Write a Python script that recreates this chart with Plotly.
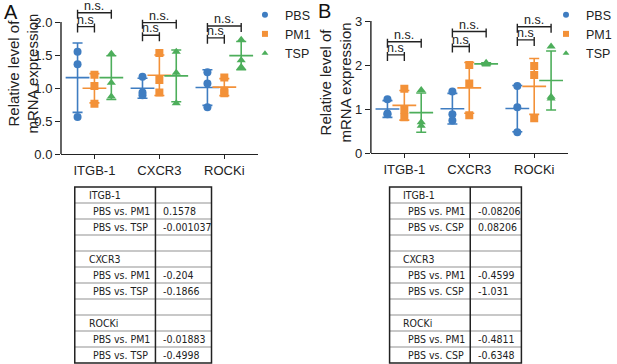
import glob
import subprocess
import numpy as np
import plotly.graph_objects as go

W, H = 617, 364

categories = ["ITGB-1", "CXCR3", "ROCKi"]
groups = ["PBS", "PM1", "TSP"]
colors = {"PBS": "#3F7DC1", "PM1": "#F39138", "TSP": "#4DAE5B"}
symbols = {"PBS": "circle", "PM1": "square", "TSP": "triangle-up"}

# Panel A values (3 replicates per group per category)
a_pbs = [[1.55, 1.36, 0.56], [1.17, 0.89, 0.93], [1.24, 1.07, 0.71]]
a_pm1 = [[1.20, 1.03, 0.76], [1.53, 1.12, 0.93], [1.16, 0.96, 0.92]]
a_tsp = [[1.52, 1.08, 0.87], [1.55, 1.23, 0.77], [1.73, 1.42, 1.32]]

# Panel B values
b_pbs = [[1.22, 0.90, 0.88], [1.40, 0.88, 0.74], [1.52, 1.04, 0.47]]
b_pm1 = [[1.46, 0.98, 0.81], [2.00, 1.58, 0.86], [1.98, 1.77, 0.79]]
b_tsp = [[1.43, 0.70, 0.62], [2.05, 2.02, 2.01], [2.42, 1.24, 1.28]]

# significance bracket heights (lower: PBS vs PM1, upper: PBS vs TSP)
a_br_low = [1.93, 1.80, 1.76]
a_br_up = [2.14, 1.99, 1.94]
b_br_low = [2.23, 2.42, 2.57]
b_br_up = [2.53, 2.76, 2.87]

a_ticks = [0, 0.5, 1.0, 1.5, 2.0]
b_ticks = [0, 1, 2, 3]

# tables
table_rows = ["ITGB-1", "PBS vs. PM1", "PBS vs. TSP", "", "CXCR3", "PBS vs. PM1", "PBS vs. TSP",
              "", "ROCKi", "PBS vs. PM1", "PBS vs. TSP"]
table_rows_b = ["ITGB-1", "PBS vs. PM1", "PBS vs. CSP", "", "CXCR3", "PBS vs. PM1", "PBS vs. CSP",
                "", "ROCKi", "PBS vs. PM1", "PBS vs. CSP"]
a_table_vals = ["", "0.1578", "-0.001037", "", "", "-0.204", "-0.1866", "", "", "-0.01883", "-0.4998"]
b_table_vals = ["", "-0.08206", "0.08206", "", "", "-0.4599", "-1.031", "", "", "-0.4811", "-0.6348"]


def px(x):
    return x / W


def py(y):
    return 1 - y / H


FONT = "Liberation Sans, Arial, sans-serif"

# pick a condensed font for the tables if one is installed
families = ""
try:
    families = subprocess.run(["fc-list", ":", "family"], capture_output=True, text=True, timeout=10).stdout
except Exception:
    pass
files = " ".join(glob.glob("/usr/share/fonts/**/*", recursive=True))
if "Liberation Sans Narrow" in families or "LiberationSansNarrow" in files:
    NARROW, NSIZE = "Liberation Sans Narrow", 11.5
elif "DejaVu Sans Condensed" in families or "DejaVuSansCondensed" in files:
    NARROW, NSIZE = "DejaVu Sans Condensed", 10.5
else:
    NARROW, NSIZE = FONT, 9.8

offsets = {"PBS": -0.26, "PM1": 0.0, "TSP": 0.26}

fig = go.Figure()
shapes = []
annotations = []


def add_panel(data, xref, yref, legend, br_low, br_up, ppu):
    for g, vals in zip(groups, data):
        xs, ys, mx, my, sd = [], [], [], [], []
        for ci, v in enumerate(vals):
            xc = ci + offsets[g]
            xs += [xc] * len(v)
            ys += v
            mx.append(xc)
            my.append(float(np.mean(v)))
            sd.append(float(np.std(v, ddof=1)))
        # mean +/- SD
        fig.add_trace(go.Scatter(
            x=mx, y=my, mode="markers", xaxis=xref, yaxis=yref, showlegend=False,
            marker=dict(symbol="line-ew", size=17, line=dict(width=1.6, color=colors[g]), color=colors[g]),
            error_y=dict(type="data", array=sd, visible=True, color=colors[g], thickness=1.6, width=5),
            hoverinfo="skip"))
        # points
        fig.add_trace(go.Scatter(
            x=xs, y=ys, mode="markers", xaxis=xref, yaxis=yref, showlegend=False, name=g,
            marker=dict(symbol=symbols[g], size=8, color=colors[g])))
        # legend entry
        fig.add_trace(go.Scatter(
            x=[None], y=[None], mode="markers", xaxis=xref, yaxis=yref, name=g, legend=legend,
            marker=dict(symbol=symbols[g], size=6, color=colors[g])))
    # significance brackets
    for ci in range(len(categories)):
        for h, g2, lab in [(br_low[ci], "PM1", "n.s"), (br_up[ci], "TSP", "n.s.")]:
            x0 = ci + offsets["PBS"]
            x1 = ci + offsets[g2]
            up = 3 / ppu
            dn = 6 / ppu
            line = dict(color="#222", width=1.4)
            shapes.append(dict(type="line", xref=xref, yref=yref, x0=x0, x1=x1, y0=h, y1=h, line=line))
            shapes.append(dict(type="line", xref=xref, yref=yref, x0=x0, x1=x0, y0=h + up, y1=h - dn, line=line))
            shapes.append(dict(type="line", xref=xref, yref=yref, x0=x1, x1=x1, y0=h + up, y1=h - dn, line=line))
            annotations.append(dict(xref=xref, yref=yref, x=(x0 + x1) / 2, y=h, text=lab, showarrow=False,
                                    yanchor="bottom", yshift=-2, font=dict(size=12.5, family=FONT, color="#222")))


add_panel([a_pbs, a_pm1, a_tsp], "x", "y", "legend", a_br_low, a_br_up, 66)
add_panel([b_pbs, b_pm1, b_tsp], "x2", "y2", "legend2", b_br_low, b_br_up, 44)

axis_common = dict(showgrid=False, zeroline=False, ticks="outside", tickcolor="#222", automargin=False,
                   tickfont=dict(size=13, family=FONT, color="#222"), tickwidth=1.4, showticklabels=True)

fig.update_layout(
    template="none", autosize=True,
    margin=dict(l=0, r=0, t=0, b=0, pad=0),
    plot_bgcolor="white", paper_bgcolor="white",
    xaxis=dict(domain=[px(62), px(262)], range=[-0.515, 2.515], tickmode="array", tickvals=[0, 1, 2],
               ticktext=categories, showline=True, linecolor="#222", linewidth=1.4, ticklen=4, anchor="y",
               **axis_common),
    yaxis=dict(domain=[py(154), py(4)], range=[0, 150 / 66], tickmode="array", tickvals=a_ticks,
               ticktext=["%.1f" % t for t in a_ticks], showline=False, ticklen=5, anchor="x", **axis_common),
    xaxis2=dict(domain=[px(377), px(577)], range=[-0.515, 2.515], tickmode="array", tickvals=[0, 1, 2],
                ticktext=categories, showline=True, linecolor="#222", linewidth=1.4, ticklen=4, anchor="y2",
                **axis_common),
    yaxis2=dict(domain=[py(153), py(4)], range=[0, 149 / 44], tickmode="array", tickvals=b_ticks,
                ticktext=[str(t) for t in b_ticks], showline=False, ticklen=5, anchor="x2", **axis_common),
    legend=dict(x=px(249), y=1, xanchor="left", yanchor="top", font=dict(size=12.5, family=FONT, color="#222"),
                tracegroupgap=0, itemwidth=30, bgcolor="rgba(0,0,0,0)"),
    legend2=dict(x=px(555), y=1, xanchor="left", yanchor="top", font=dict(size=12.5, family=FONT, color="#222"),
                 tracegroupgap=0, itemwidth=30, bgcolor="rgba(0,0,0,0)"),
    showlegend=True,
)

# y axis lines (only up to the top tick)
shapes.append(dict(type="line", xref="x domain", yref="y", x0=0, x1=0, y0=0, y1=a_ticks[-1],
                   line=dict(color="#222", width=1.4)))
shapes.append(dict(type="line", xref="x2 domain", yref="y2", x0=0, x1=0, y0=0, y1=b_ticks[-1],
                   line=dict(color="#222", width=1.4)))

# axis titles and panel letters
for xc, yc in [(24, 74), (342, 82)]:
    annotations.append(dict(xref="paper", yref="paper", x=px(xc), y=py(yc), text="Relative level of<br>mRNA expression",
                            textangle=-90, showarrow=False, xanchor="center", yanchor="middle",
                            font=dict(size=15, family=FONT, color="#222")))
for letter, xc, yc in [("A", 11, 12), ("B", 330, 11)]:
    annotations.append(dict(xref="paper", yref="paper", x=px(xc), y=py(yc), text=letter, showarrow=False,
                            xanchor="center", yanchor="middle", font=dict(size=20, family=FONT, color="#111")))


# tables
def add_table(left, right, div, rows, vals):
    top, rh = 187, 16
    n = len(rows)
    bottom = top + rh * n
    for k in range(1, n):
        yk = top + rh * k
        shapes.append(dict(type="line", xref="paper", yref="paper", x0=px(left), x1=px(right), y0=py(yk), y1=py(yk),
                           line=dict(color="#C8C8C8", width=2)))
    shapes.append(dict(type="rect", xref="paper", yref="paper", x0=px(left), x1=px(right), y0=py(top), y1=py(bottom),
                       line=dict(color="#222", width=1.5)))
    shapes.append(dict(type="line", xref="paper", yref="paper", x0=px(div), x1=px(div), y0=py(top), y1=py(bottom),
                       line=dict(color="#222", width=1.5)))
    for k, (r, v) in enumerate(zip(rows, vals)):
        yc = top + rh * k + rh / 2
        indent = 17 if r.startswith("PBS") else 12
        if r:
            annotations.append(dict(xref="paper", yref="paper", x=px(left + indent), y=py(yc), text=r, showarrow=False,
                                    xanchor="left", yanchor="middle", font=dict(size=NSIZE, family=NARROW, color="#222")))
        if v:
            annotations.append(dict(xref="paper", yref="paper", x=px(div + 6), y=py(yc), text=v, showarrow=False,
                                    xanchor="left", yanchor="middle", font=dict(size=NSIZE, family=NARROW, color="#222")))


add_table(76, 215, 158, table_rows, a_table_vals)
add_table(396, 530, 478, table_rows_b, b_table_vals)

fig.update_layout(shapes=shapes, annotations=annotations)
fig.write_html("out.html", config={"displayModeBar": False}, default_width="100vw", default_height="100vh",
               post_script="document.body.style.margin='0';document.body.style.overflow='hidden';")
